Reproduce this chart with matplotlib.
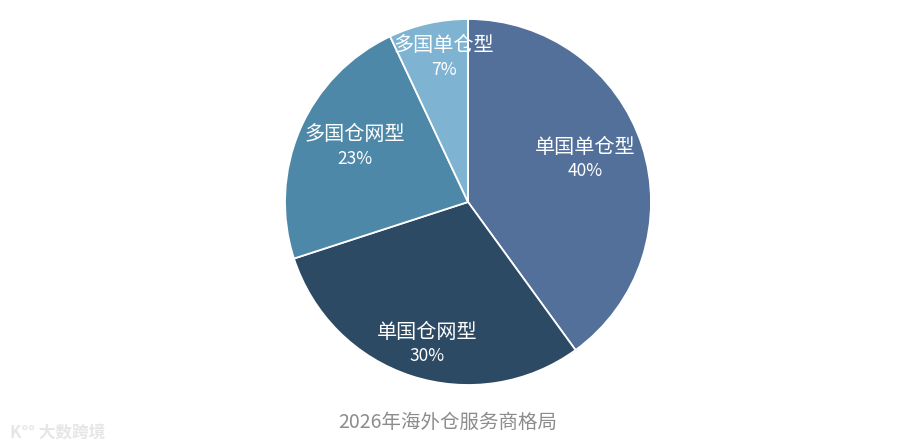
import numpy as np
import matplotlib
matplotlib.use('Agg')
import matplotlib.pyplot as plt

plt.rcParams['font.family'] = ['Noto Sans CJK SC', 'DejaVu Sans']

labels = ['单国单仓型', '单国仓网型', '多国仓网型', '多国单仓型']
shares = [40, 30, 23, 7]
colors = ['#52709A', '#2D4A65', '#4E88A8', '#7EB4D2']
# label placement: radius fraction and angle nudge (deg) per slice
label_r = [0.68, 0.81, 0.69, 0.80]
label_da = [2, 2, -2.5, -3]
title = '2026年海外仓服务商格局'

fig = plt.figure(figsize=(9, 4.48), dpi=100)
ax = fig.add_axes([0, 0, 1, 1])
ax.axis('off')

cx, cy, R = 468, 246, 183
wedges, _ = ax.pie(shares, colors=colors, startangle=90, counterclock=False,
                   center=(cx, cy), radius=R,
                   wedgeprops=dict(edgecolor='white', linewidth=1.3))
ax.set_xlim(0, 900)
ax.set_ylim(0, 448)
ax.set_aspect('equal')

for w, lab, val, r, da in zip(wedges, labels, shares, label_r, label_da):
    mid = np.deg2rad((w.theta1 + w.theta2) / 2 + da)
    x = cx + r * R * np.cos(mid)
    y = cy + r * R * np.sin(mid)
    ax.text(x, y + 12, lab, color='white', fontsize=14.5, ha='center', va='center')
    ax.text(x, y - 12, f'{val}%', color='white', fontsize=12.5, ha='center', va='center')

ax.text(448, 26, title, color='#8c8c8c', fontsize=14, ha='center', va='center')
ax.text(10, 16, 'K°° 大数跨境', color='#e6e6e6', fontsize=12, ha='left', va='center',
        fontweight='bold')

fig.savefig('out.png', dpi=100)
